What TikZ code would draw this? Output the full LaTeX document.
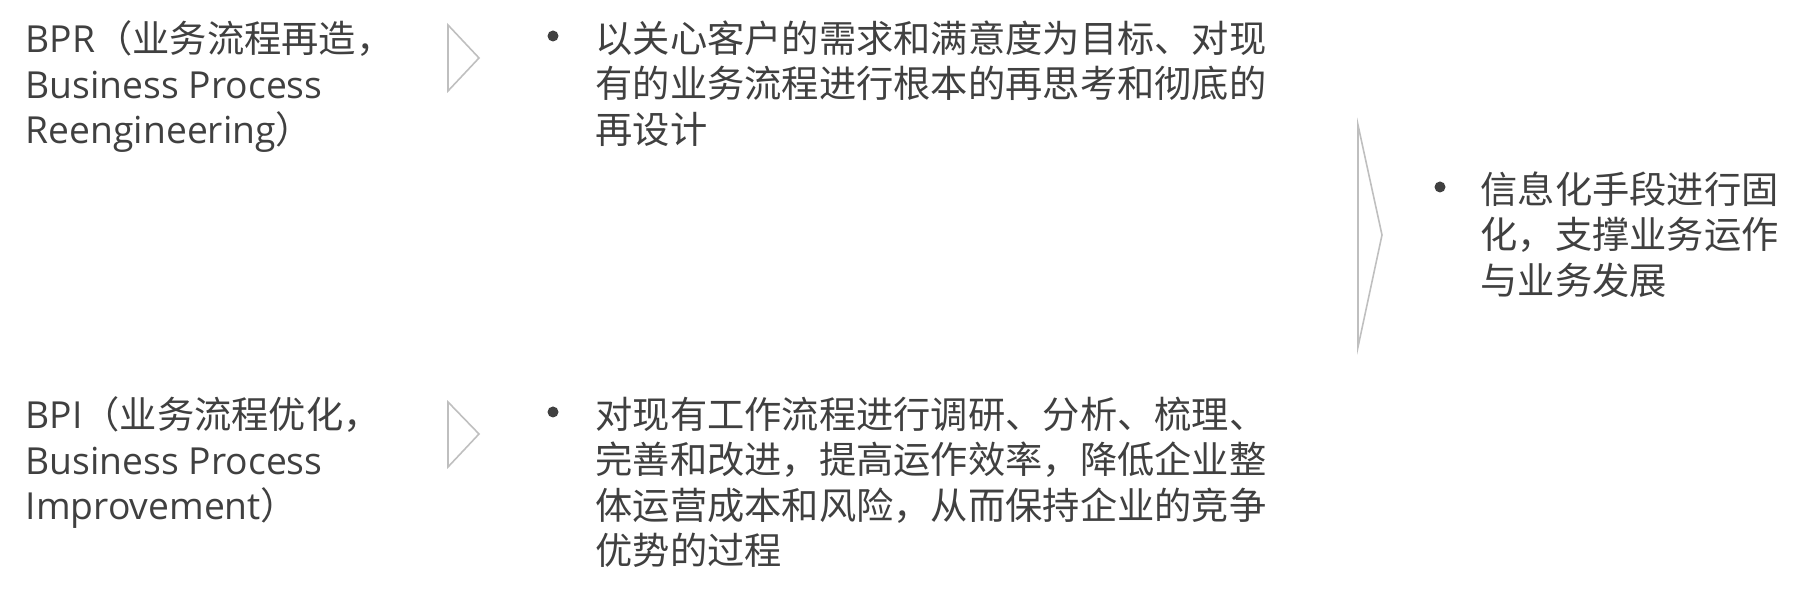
\documentclass[tikz,border=0pt]{standalone}
\usepackage{fontspec}
\setmainfont{Open Sans}
\newfontfamily\cjk{Noto Sans CJK SC}
\usepackage{xcolor}
\usepackage{tikz}
\definecolor{textgray}{HTML}{404040}
\definecolor{chevgray}{HTML}{BFBFBF}

\begin{document}
\begin{tikzpicture}[
		x=0.1mm, y=0.1mm,
		inner sep=0pt,
		labelbox/.style={
				anchor=north west,
				align=left,
				text=textgray,
				font=\fontsize{10.6pt}{12.95pt}\selectfont
			},
		itembox/.style={
				labelbox,
				font=\fontsize{10.6pt}{12.95pt}\selectfont\cjk
			},
		bulletdot/.style={
				circle,
				fill=textgray,
				minimum size=1.1mm
			},
		chevron/.style={
				draw=chevgray,
				line width=0.45pt,
				line join=miter
			},
		]

		\fill[white] (0,0) rectangle (1802,592);
		\useasboundingbox (0,0) rectangle (1802,592);

		\node[labelbox] (bprlbl) at (25,572) {BPR\cjk{（业务流程再造，}\\Business Process\\Reengineering\cjk{）}};

		\node[labelbox] (bpilbl) at (25,196) {BPI\cjk{（业务流程优化，}\\Business Process\\Improvement\cjk{）}};

		\draw[chevron] (448,567) -- (479,534) -- (448,501) -- cycle;

		\draw[chevron] (448,190) -- (479,158) -- (448,125) -- cycle;

		\node[bulletdot] (bprdot) at (553,556) {};

		\node[itembox] (bprtxt) at (595,572) {以关心客户的需求和满意度为目标、对现\\有的业务流程进行根本的再思考和彻底的\\再设计};

		\node[bulletdot] (bpidot) at (553,180) {};

		\node[itembox] (bpitxt) at (595,196) {对现有工作流程进行调研、分析、梳理、\\完善和改进，提高运作效率，降低企业整\\体运营成本和风险，从而保持企业的竞争\\优势的过程};

		\draw[chevron] (1358,467) -- (1382,357) -- (1358,245) -- cycle;

		\node[bulletdot] (itdot) at (1440,405) {};

		\node[itembox] (ittxt) at (1480,421) {信息化手段进行固\\化，支撑业务运作\\与业务发展};

	\end{tikzpicture}
\end{document}
